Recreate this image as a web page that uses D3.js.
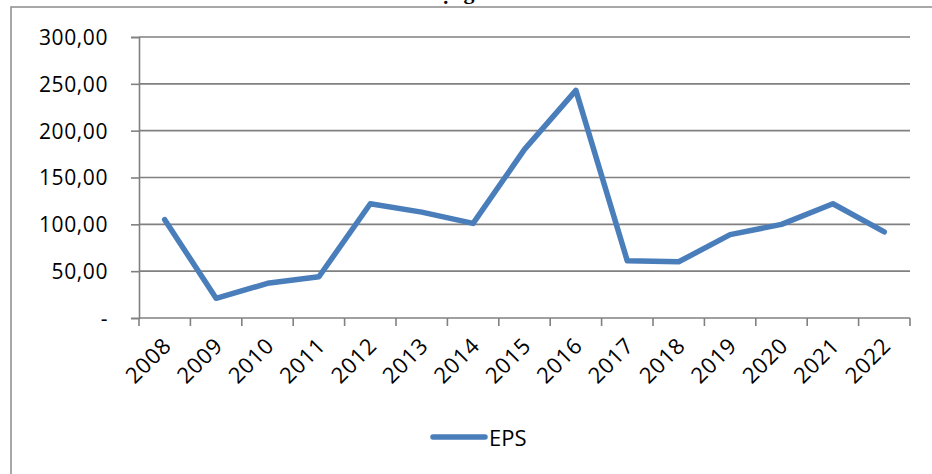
<!DOCTYPE html>
<html><head><meta charset="utf-8">
<script src="https://cdn.jsdelivr.net/npm/d3@7"></script>
<style>html,body{margin:0;padding:0;background:#fff;}svg{display:block;}</style>
</head><body>
<svg id="chart" width="932" height="474"></svg>
<script>
const categories = ["2008","2009","2010","2011","2012","2013","2014","2015","2016","2017","2018","2019","2020","2021","2022"];
const epsValues = [105, 21, 37, 44, 122, 113, 101, 180, 243, 61, 60, 89, 100, 122, 92];
const yTicks = [0, 50, 100, 150, 200, 250, 300];
const seriesName = "EPS";
const titleText = "Biểu đồ biến động của EPS";

const svg = d3.select("#chart");
const W = 932, H = 474;
const margin = {left: 139, right: 22, top: 37, bottom: 156};

// title (cut off above the frame, as in the reference)
svg.append("text").attr("x", 432).attr("y", -1).attr("text-anchor", "middle")
  .attr("font-family", "Liberation Serif").attr("font-weight", "bold").attr("font-size", 22)
  .text(titleText);

// frame covering the title bottom
svg.append("rect").attr("x", 11).attr("y", 7).attr("width", W).attr("height", H)
  .attr("fill", "#fff").attr("stroke", "#8c8c8c").attr("stroke-width", 1.5);

const x = d3.scaleBand().domain(categories).range([margin.left, W - margin.right]);
const y = d3.scaleLinear().domain([0, 300]).range([H - margin.bottom, margin.top]);

const fmt = v => v === 0 ? "-" : d3.format(".2f")(v).replace(".", ",");

// gridlines
svg.append("g").selectAll("line").data(yTicks.filter(v => v > 0)).join("line")
  .attr("x1", margin.left).attr("x2", W - margin.right)
  .attr("y1", d => y(d)).attr("y2", d => y(d))
  .attr("stroke", "#808080").attr("stroke-width", 1.6);

// y axis
const yAxis = svg.append("g").attr("transform", `translate(${margin.left},0)`)
  .call(d3.axisLeft(y).tickValues(yTicks).tickSize(8).tickPadding(23).tickFormat(fmt));
yAxis.select(".domain").attr("stroke", "#808080").attr("stroke-width", 1.6);
yAxis.selectAll(".tick line").attr("stroke", "#808080").attr("stroke-width", 1.6);
yAxis.selectAll("text").attr("font-family", "Open Sans").attr("font-size", 21)
  .attr("letter-spacing", 0.6).attr("fill", "#000").attr("dy", "0.35em");

// x axis
svg.append("line").attr("x1", margin.left).attr("x2", W - margin.right)
  .attr("y1", y(0)).attr("y2", y(0)).attr("stroke", "#808080").attr("stroke-width", 1.6);
const bounds = categories.map(c => x(c)).concat([x(categories[categories.length-1]) + x.bandwidth()]);
svg.append("g").selectAll("line").data(bounds).join("line")
  .attr("x1", d => d).attr("x2", d => d).attr("y1", y(0)).attr("y2", y(0) + 8)
  .attr("stroke", "#808080").attr("stroke-width", 1.6);
svg.append("g").selectAll("text").data(categories).join("text")
  .attr("transform", d => `translate(${x(d) + x.bandwidth()/2 + 8},${y(0) + 29}) rotate(-45)`)
  .attr("text-anchor", "end")
  .attr("font-family", "Open Sans").attr("font-size", 22).attr("letter-spacing", 0.8)
  .attr("fill", "#000").text(d => d);

// line
const line = d3.line().x((d, i) => x(categories[i]) + x.bandwidth()/2).y(d => y(d));
svg.append("path").datum(epsValues).attr("d", line)
  .attr("fill", "none").attr("stroke", "#4a7ebb").attr("stroke-width", 5.5)
  .attr("stroke-linejoin", "round").attr("stroke-linecap", "round");

// legend
svg.append("line").attr("x1", 433).attr("x2", 485).attr("y1", 437).attr("y2", 437)
  .attr("stroke", "#4a7ebb").attr("stroke-width", 5.5).attr("stroke-linecap", "round");
svg.append("text").attr("x", 489).attr("y", 446)
  .attr("font-family", "Open Sans").attr("font-size", 22).attr("fill", "#000").text(seriesName);
</script>
</body></html>
